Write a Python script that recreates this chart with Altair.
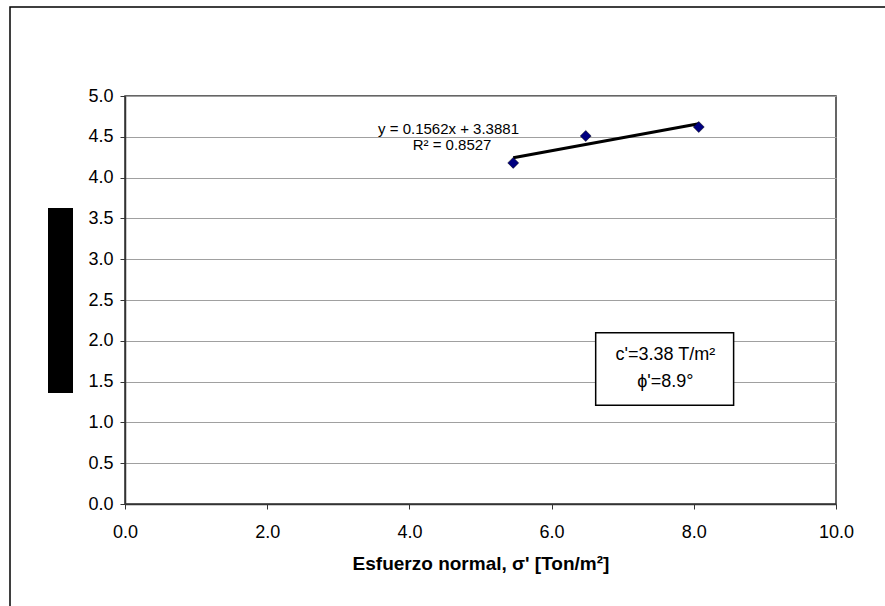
import altair as alt
import pandas as pd

# data
sigma = [5.46, 6.48, 8.07]
tau = [4.18, 4.51, 4.62]

eq_text = ["y = 0.1562x + 3.3881", "R² = 0.8527"]
eq_x = [4.55, 4.6]
eq_y = [4.59, 4.40]

box_text = ["c'=3.38 T/m²", "ϕ'=8.9°"]
box_tx = [7.6, 7.6]
box_ty = [1.83, 1.50]
box_x = [6.62]
box_x2 = [8.56]
box_y = [2.10]
box_y2 = [1.21]

FONT = "Liberation Sans"

pts = pd.DataFrame({"x": sigma, "y": tau})
x_scale = alt.Scale(domain=[0, 10], nice=False)
y_scale = alt.Scale(domain=[0, 5], nice=False)

xax = alt.Axis(values=[0, 2, 4, 6, 8, 10], format=".1f", grid=False, labelFlush=False,
               title="Esfuerzo normal, σ' [Ton/m²]", titleFont=FONT, titleFontSize=19,
               titleFontWeight="bold", titleColor="black", titlePadding=13,
               labelFont=FONT, labelFontSize=18, labelColor="black", labelPadding=14,
               tickColor="#333333", tickSize=5, domainColor="#333333", domainWidth=1.5)
yax = alt.Axis(values=[i * 0.5 for i in range(11)], format=".1f", grid=True, labelFlush=False,
               gridColor="#a0a0a0", gridWidth=1,
               title=None, labelFont=FONT, labelFontSize=18, labelColor="black", labelPadding=7,
               tickColor="#333333", tickSize=5, domainColor="#333333", domainWidth=1.5)

points = alt.Chart(pts).mark_point(shape="diamond", filled=True, color="#000080",
                                   size=120, stroke="#000000", strokeWidth=0.5, opacity=1).encode(
    x=alt.X("x:Q", scale=x_scale, axis=xax),
    y=alt.Y("y:Q", scale=y_scale, axis=yax),
)

trend = alt.Chart(pts).transform_regression("x", "y").mark_line(
    color="black", strokeWidth=3).encode(
    x=alt.X("x:Q", scale=x_scale),
    y=alt.Y("y:Q", scale=y_scale),
)

eq_df = pd.DataFrame({"x": eq_x, "y": eq_y, "t": eq_text})
eq = alt.Chart(eq_df).mark_text(font=FONT, fontSize=15, color="black", align="center",
                                baseline="middle").encode(
    x=alt.X("x:Q", scale=x_scale), y=alt.Y("y:Q", scale=y_scale), text="t:N")

box_df = pd.DataFrame({"x": box_x, "x2": box_x2, "y": box_y, "y2": box_y2})
box = alt.Chart(box_df).mark_rect(fill="white", stroke="black", strokeWidth=1.5).encode(
    x=alt.X("x:Q", scale=x_scale), x2="x2:Q",
    y=alt.Y("y:Q", scale=y_scale), y2="y2:Q")

bt_df = pd.DataFrame({"x": box_tx, "y": box_ty, "t": box_text})
btxt = alt.Chart(bt_df).mark_text(font=FONT, fontSize=18, color="black", align="center",
                                  baseline="middle").encode(
    x=alt.X("x:Q", scale=x_scale), y=alt.Y("y:Q", scale=y_scale), text="t:N")

# black block that stands in for the y-axis title, and the outer chart frame
ytitle = alt.Chart(pd.DataFrame({"t": ["Esfuerzo cortante, τ [Ton/m²]"]})).mark_rect(
    color="black").encode(
    x=alt.value(-77), x2=alt.value(-52), y=alt.value(112), y2=alt.value(297))
frame = alt.Chart(pd.DataFrame({"t": ["frame"]})).mark_rect(
    fill=None, stroke="black", strokeWidth=1.5).encode(
    x=alt.value(-115), x2=alt.value(800), y=alt.value(-89), y2=alt.value(560))

chart = alt.layer(frame, ytitle, trend, points, eq, box, btxt).properties(
    width=711, height=408,
    autosize=alt.AutoSizeParams(type="none"),
    padding={"left": 125, "top": 96, "right": 49, "bottom": 102},
    background="white",
).configure_view(stroke="#333333", strokeWidth=1.5)

chart.save("out.html", embed_options={"renderer": "svg", "actions": False})
